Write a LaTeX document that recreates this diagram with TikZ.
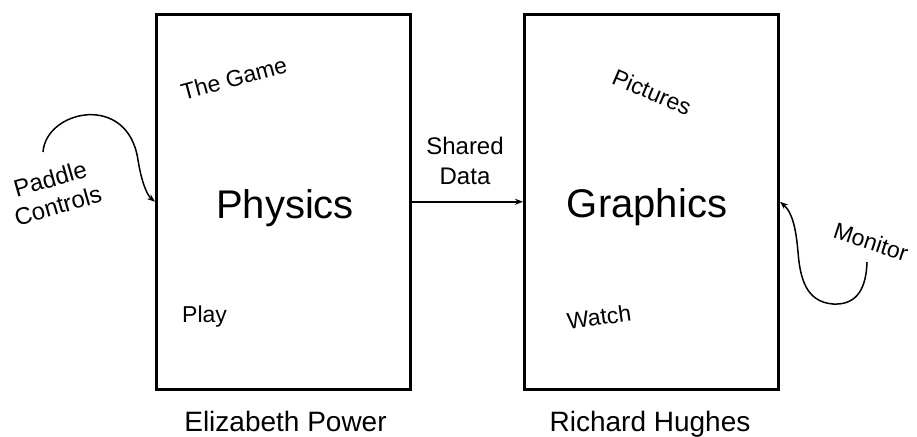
\documentclass[tikz,border=0pt]{standalone}
\usepackage{fontspec}
\setmainfont{Liberation Sans}
\usetikzlibrary{arrows.meta}
\begin{document}
\begin{tikzpicture}[x=1pt,y=-1pt,
  bigbox/.style={draw,line width=3pt,minimum width=254pt,minimum height=374.5pt,inner sep=0pt},
  biglbl/.style={font=\fontsize{40}{48}\selectfont,inner sep=0pt},
  personlbl/.style={font=\fontsize{28}{34}\selectfont,inner sep=0pt},
  smalllbl/.style={font=\fontsize{23}{28}\selectfont,inner sep=0pt},
  conn/.style={line width=1.5pt,-{Stealth[length=8pt,width=6pt]}}]
\useasboundingbox (0,0) rectangle (917,436);
\node[bigbox] (phys) at (283.5,201.75) {};
\node[bigbox] (graph) at (651.5,201.75) {};
\node[biglbl,anchor=base] (physl) at (285,218) {Physics};
\node[biglbl,anchor=base] (graphl) at (647,217) {Graphics};
\node[personlbl,anchor=base] (eliz) at (285.5,431) {Elizabeth Power};
\node[personlbl,anchor=base] (rich) at (650,431) {Richard Hughes};
\node[smalllbl,anchor=base west] (play) at (182,322) {Play};
\node[smalllbl,rotate=15] (game) at (234,78) {The Game};
\node[smalllbl,rotate=-23] (pict) at (652,92) {Pictures};
\node[smalllbl,rotate=8] (watch) at (599,317) {Watch};
\node[smalllbl,align=center,font=\fontsize{24}{30}\selectfont] (shared) at (465,161) {Shared\\Data};
\node[smalllbl,align=center,rotate=16,font=\fontsize{24}{28}\selectfont] (paddle) at (54,192) {Paddle\\Controls};
\node[smalllbl,rotate=-18] (mon) at (871,242) {Monitor};
\coordinate (pstart) at (43,152);
\coordinate (mstart) at (867,262);
\draw[conn] (phys.east) -- (graph.west);
\draw[conn] (pstart) .. controls (46,110) and (128,92) .. (138,160) .. controls (142,185) and (148,196) .. (phys.west);
\draw[conn] (mstart) .. controls (866,295) and (852,305) .. (833,304) .. controls (806,302) and (800,278) .. (798,252) .. controls (796,228) and (792,212) .. (graph.east);
\end{tikzpicture}
\end{document}
